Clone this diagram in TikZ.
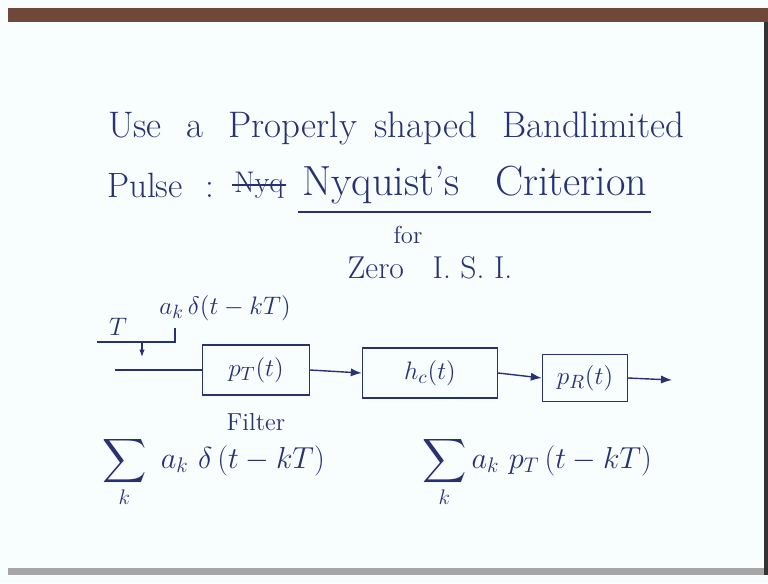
\documentclass[tikz,border=0pt]{standalone}
\usepackage{amsmath, amssymb}
\usepackage{xcolor}
\usepackage{tikz}
\usetikzlibrary{positioning, arrows.meta, calc}

\definecolor{ink}{RGB}{40,50,115}
\definecolor{board}{RGB}{248,253,254}
\definecolor{band}{RGB}{112,72,58}

\begin{document}
\begin{tikzpicture}[x=0.02cm, y=-0.02cm,
    hand/.style={text=ink, font=\fontsize{20}{24}\selectfont, inner sep=1pt},
    small/.style={text=ink, font=\fontsize{14}{16}\selectfont, inner sep=1pt},
    blockbox/.style={draw=ink, thick, text=ink, minimum width=#1, minimum height=1cm, font=\fontsize{15}{18}\selectfont},
    wire/.style={draw=ink, thick},
    sig/.style={draw=ink, thick, -{Latex[length=2.2mm]}}]
        % The board
        \fill[board] (0,0) rectangle (768,583);
        \useasboundingbox (0,0) rectangle (768,583);
        \fill[band] (8,8) rectangle (768,22);
        \fill[gray!70] (8,568) rectangle (768,575);
        \fill[black!80] (764,22) rectangle (768,575);

        % Heading
        \node[hand, font=\fontsize{21}{24}\selectfont] (head) at (396,128) {Use\hspace{0.5cm}a\hspace{0.5cm}Properly\hspace{0.35cm}shaped\hspace{0.5cm}Bandlimited};
        \node[hand, anchor=west] (pulse) at (105,185) {Pulse\hspace{0.45cm}:};
        \node[hand, font=\fontsize{17}{20}\selectfont] (nyq) at (259,185) {Nyq};
        \draw[ink, thick] (nyq.west) -- (nyq.east);
        \node[hand, anchor=west, font=\fontsize{24}{28}\selectfont] (crit) at (300,185) {Nyquist's\hspace{0.7cm}Criterion};
        \draw[ink, thick] ($(crit.south west)+(-2,6)$) -- ($(crit.south east)+(2,6)$);
        \node[small] (for) at (408,235) {for};
        \node[hand, font=\fontsize{18}{22}\selectfont] (zero) at (430,268) {Zero\ \ \ I. S. I.};

        % The chain
        \node[blockbox=2.14cm] (pT) at (256,370) {$p_T(t)$};
        \node[blockbox=2.7cm] (hc) at (430,373) {$h_c(t)$};
        \node[blockbox=1.7cm, minimum height=0.94cm] (pR) at (585,378) {$p_R(t)$};
        \node[small] (filt) at (256,422) {Filter};

        % Sampler
        \coordinate (sa) at (97,342);
        \coordinate (sb) at (175,342);
        \coordinate (sc) at (175,328);
        \coordinate (sd) at (142,342);
        \coordinate (se) at (142,357);
        \coordinate (in) at (115,370);
        \coordinate (out) at (672,380);
        \draw[wire] (sa) -- (sb) -- (sc);
        \draw[wire, -{Latex[length=1.5mm]}] (sd) -- (se);
        \node[small] (T) at (118,327) {$T$};
        \node[hand, font=\fontsize{15}{18}\selectfont] (ak) at (225,308) {$a_k\,\delta(t-kT)$};

        \draw[wire] (in) -- (pT.west);
        \draw[sig] (pT.east) -- (hc.west);
        \draw[sig] (hc.east) -- (pR.west);
        \draw[sig] (pR.east) -- (out);

        % Sums
        \node[hand, anchor=west, font=\fontsize{17.5}{21}\selectfont] (sum1) at (100,472) {$\displaystyle\sum_k\ a_k\ \delta\,(t-kT)$};
        \node[hand, anchor=west, font=\fontsize{17.5}{21}\selectfont] (sum2) at (420,472) {$\displaystyle\sum_k a_k\ p_T\,(t-kT)$};
\end{tikzpicture}
\end{document}
